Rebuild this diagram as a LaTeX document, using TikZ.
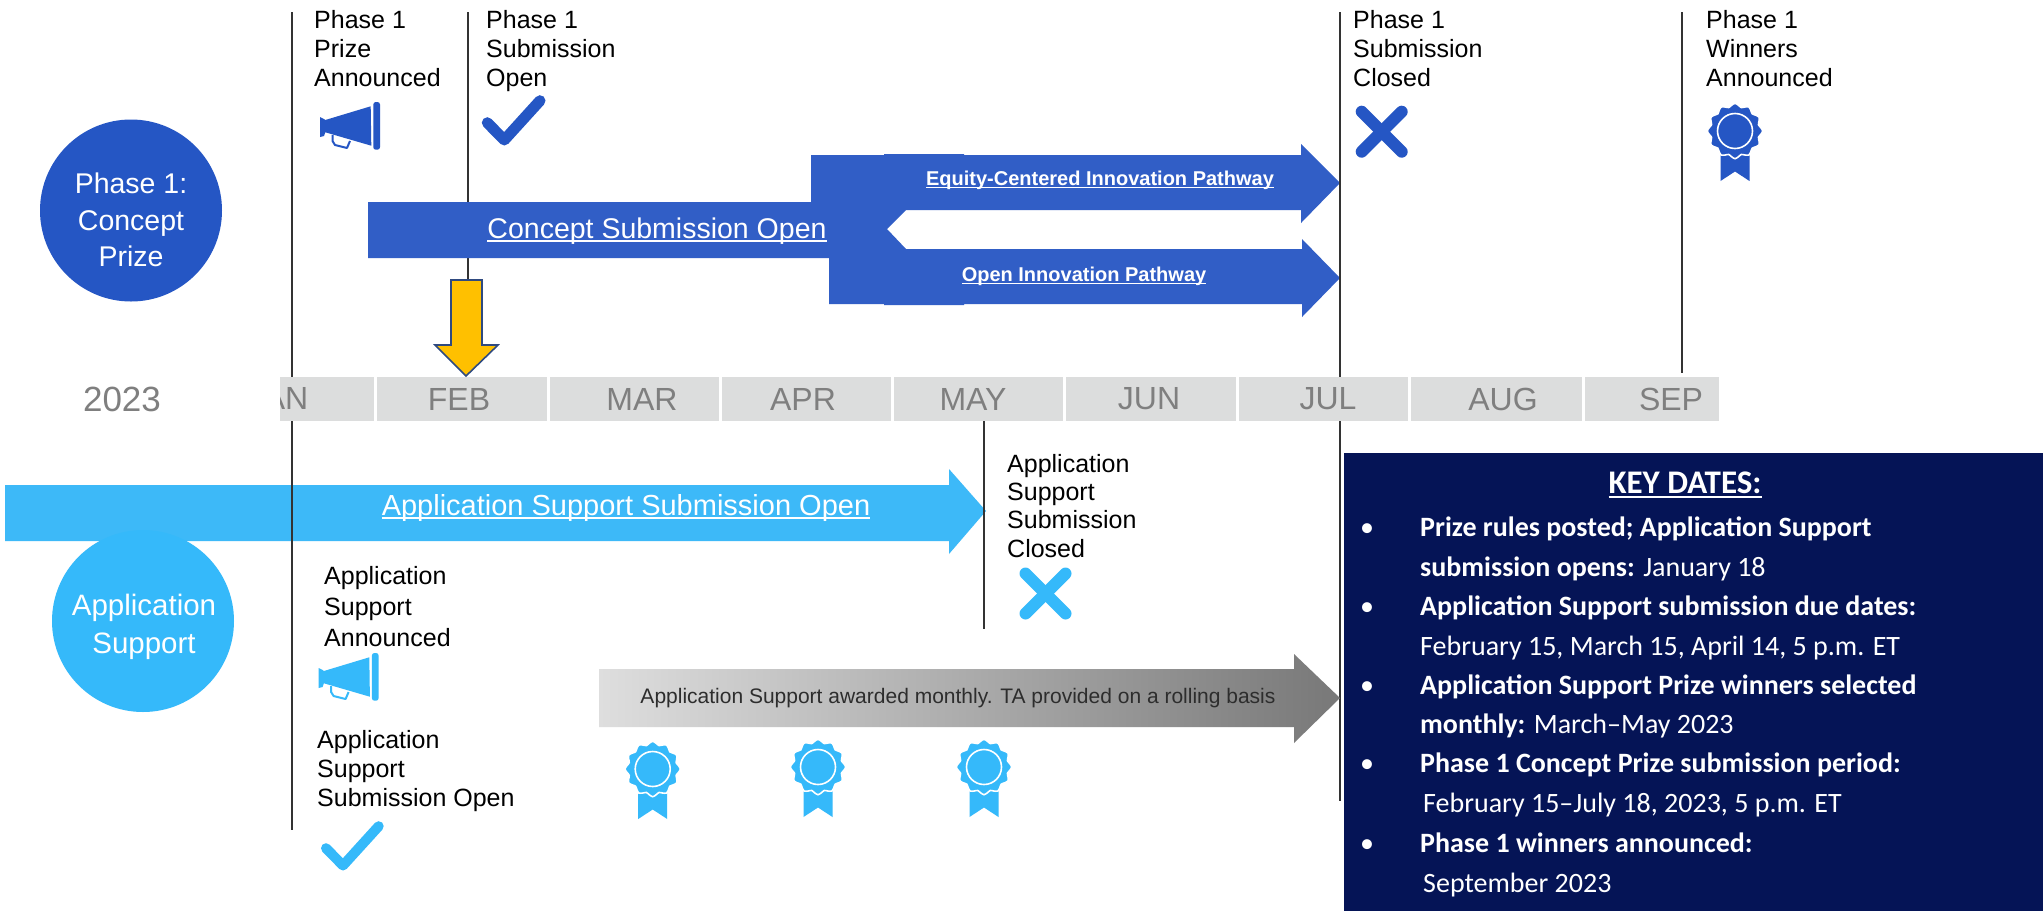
\documentclass[tikz,border=0pt]{standalone}
\usepackage{fontspec}
\setmainfont{Liberation Sans}
\newfontfamily\carl{Carlito}
\definecolor{pblue}{HTML}{2556C4}
\definecolor{barblue}{HTML}{315EC6}
\definecolor{lblue}{HTML}{35B9FA}
\definecolor{lbar}{HTML}{3DB9F8}
\definecolor{navy}{HTML}{051456}
\definecolor{monthbg}{HTML}{DCDDDD}
\definecolor{monthtx}{HTML}{7F7F7F}
\definecolor{vline}{HTML}{333333}
\newsavebox\ulbox
\newcommand\ulx[3]{\sbox\ulbox{#3}\leavevmode\rlap{\rule[-#1pt]{\wd\ulbox}{#2pt}}\usebox\ulbox}
\newcommand\fs[2]{\fontsize{#1}{#2}\selectfont}
\newcommand\ribbonicon[3]{%
  \begin{scope}[shift={(#1,#2)}]
    \fill[#3] (-14.5,24) -- (14.5,24) -- (14.5,50) -- (0,40.5) -- (-14.5,50) -- cycle;
    \fill[#3,draw=white,line width=1.6] plot[smooth cycle,domain=0:352.5,samples=48] ({(26+1.7*cos(12*\x))*cos(\x)},{(26+1.7*cos(12*\x))*sin(\x)});
    \draw[white,line width=1.6] (0,0) circle (17.5);
  \end{scope}}
\newcommand\megaicon[4]{%
  \begin{scope}[shift={(#1,#2)}]
    \fill[#3] (0,15) -- (4,17) -- (5.3,18) -- (50.7,4.3) -- (51.3,43.7) -- (5.3,30.3) -- (4,34) -- (0,35) -- cycle;
    \fill[#3,rounded corners=2.5] (53.3,0) rectangle (60,47.7);
    \draw[#3,line width=2,line join=round] (12.5,33) -- (12.5,39) -- (15,43) -- (27,46) -- (30,39);
  \end{scope}}
\newcommand\checkicon[4]{%
  \draw[#3,line width=#4,line cap=round,line join=round] (#1,#2) ++(-17,-17.3) -- ++(17,17.3) -- ++(35.7,-39.3);}
\newcommand\crossicon[3]{%
  \draw[#3,line width=12,line cap=round] (#1,#2) ++(-20,-20) -- ++(40,40);
  \draw[#3,line width=12,line cap=round] (#1,#2) ++(20,-20) -- ++(-40,40);}
\tikzset{
  vl/.style={vline,line width=1.7},
  lbl/.style={anchor=north west,inner sep=0,align=left,font=\fs{25}{29},text=black},
  mon/.style={fill=monthbg,draw=none},
  montx/.style={inner sep=0,text=monthtx,font=\fs{32}{36}},
  wtx/.style={inner sep=0,text=white},
  kd/.style={anchor=base west,inner sep=0,text=white,font=\carl\fs{28}{32}},
  kb/.style={anchor=base,inner sep=0,text=white,font=\carl\fs{28}{32}},
}
\begin{document}
\begin{tikzpicture}[x=1pt,y=-1pt]
\useasboundingbox (0,0) rectangle (2043,911);
\fill[white] (0,0) rectangle (2043,911);
% vertical rules
\coordinate (a1) at (292,12); \coordinate (a2) at (292,377);
\coordinate (a3) at (292,421); \coordinate (a4) at (292,830);
\coordinate (b1) at (468,12); \coordinate (b2) at (468,285);
\coordinate (c1) at (1340,12); \coordinate (c2) at (1340,377);
\coordinate (c3) at (1340,421); \coordinate (c4) at (1340,801);
\coordinate (d1) at (1682,12); \coordinate (d2) at (1682,373);
\coordinate (e1) at (984,421); \coordinate (e2) at (984,629);
\draw[vl] (b1) -- (b2);
\draw[vl] (d1) -- (d2);
% concept arrows
\fill[barblue] (368,202) -- (811,202) -- (811,155) -- (884,155) -- (884,154) -- (964,154) -- (964,155)
  -- (1301,155) -- (1301,144) -- (1340,183) -- (1301,223) -- (1301,210) -- (906,210) -- (887,229) -- (906,249)
  -- (1302,249) -- (1302,239) -- (1340,278) -- (1302,317) -- (1302,304) -- (964,304) -- (964,305) -- (884,305)
  -- (884,304) -- (829,304) -- (829,258) -- (368,258) -- cycle;
\node[wtx,font=\fs{28.5}{32}] (concept) at (657,231) {\ulx{3.5}{2}{Concept Submission Open}};
\node[wtx,font=\bfseries\fs{20}{24}] (equity) at (1100,180) {\ulx{3}{1.6}{Equity-Centered Innovation Pathway}};
\node[wtx,font=\bfseries\fs{20}{24}] (openp) at (1084,276) {\ulx{3}{1.6}{Open Innovation Pathway}};
% gold arrow
\fill[fill=yellow!0!orange!0!white,fill opacity=0] (0,0) circle (0);
\filldraw[fill={rgb,255:red,255;green,192;blue,0},draw={rgb,255:red,47;green,74;blue,128},line width=1.6]
  (451,280) -- (482,280) -- (482,345) -- (498,345) -- (466,376) -- (435,345) -- (451,345) -- cycle;
% month bar
\draw[vl] (a1) -- (a2);
\draw[vl] (c1) -- (c2);
\foreach \xa/\xb in {280/374,377/547,550/719,722/891,894/1063,1066/1236,1239/1408,1411/1582,1585/1719}
  \fill[mon] (\xa,377) rectangle (\xb,421);
\begin{scope}
  \clip (280,370) rectangle (374,425);
  \node[montx] (jan) at (278,399) {JAN};
\end{scope}
\node[montx] (feb) at (459,399) {FEB};
\node[montx] (mar) at (642,399) {MAR};
\node[montx] (apr) at (803,399) {APR};
\node[montx] (may) at (973,399) {MAY};
\node[montx] (jun) at (1149,399) {JUN};
\node[montx] (jul) at (1328,399) {JUL};
\node[montx] (aug) at (1503,399) {AUG};
\node[montx] (sep) at (1671,399) {SEP};
\node[inner sep=0,text=monthtx,font=\fs{35}{38}] (yr) at (122,399) {2023};
% phase circle
\node[circle,fill=pblue,minimum size=182,inner sep=0] (phc) at (131,210.5) {};
\node[wtx,align=center,font=\fs{28.5}{36.5}] (phtx) at (131,220) {Phase 1:\\Concept\\Prize};
% application arrow
\fill[lbar] (5,485) -- (949,485) -- (949,469) -- (986,511) -- (949,554) -- (949,541) -- (5,541) -- cycle;
\node[wtx,font=\fs{29}{32}] (appbar) at (626,508) {\ulx{3.5}{2}{Application Support Submission Open}};
\node[circle,fill=lblue,minimum size=182,inner sep=0] (apc) at (143,621) {};
\node[wtx,align=center,font=\fs{29.5}{38}] (aptx) at (144,627) {Application\\Support};
\draw[vl] (a3) -- (a4);
\draw[vl] (c3) -- (c4);
\draw[vl] (e1) -- (e2);
% grey arrow
\shade[left color={rgb,255:red,222;green,222;blue,222},right color={rgb,255:red,120;green,120;blue,120}]
  (599,669) -- (1294,669) -- (1294,654) -- (1340,698) -- (1294,743) -- (1294,727) -- (599,727) -- cycle;
\node[inner sep=0,text={rgb,255:red,45;green,45;blue,45},font=\fs{21}{25}] (gr) at (958,698) {Application Support awarded monthly. TA provided on a rolling basis};
% labels
\node[lbl] (l1) at (314,10) {Phase 1\\Prize\\Announced};
\node[lbl] (l2) at (486,10) {Phase 1\\Submission\\Open};
\node[lbl] (l3) at (1353,10) {Phase 1\\Submission\\Closed};
\node[lbl] (l4) at (1706,10) {Phase 1\\Winners\\Announced};
\node[lbl,font=\fs{25}{28.3}] (l5) at (1007,454) {Application\\Support\\Submission\\Closed};
\node[lbl,font=\fs{25}{31}] (l6) at (324,566) {Application\\Support\\Announced};
\node[lbl,font=\fs{25}{29}] (l7) at (317,730) {Application\\Support\\Submission Open};
% icons
\megaicon{320}{102}{pblue}{}
\checkicon{504.3}{140}{pblue}{11}
\crossicon{1381.7}{131.7}{pblue}
\ribbonicon{1735}{131}{pblue}
\megaicon{318.6}{653}{lblue}{}
\checkicon{343}{865.5}{lblue}{10}
\crossicon{1045.5}{593.5}{lblue}
\ribbonicon{652.7}{769}{lblue}
\ribbonicon{818}{767}{lblue}
\ribbonicon{984}{767}{lblue}
% key dates
\fill[navy] (1344,453) rectangle (2043,911);
\node[inner sep=0,text=white,font=\carl\bfseries\fs{33}{36}] (kt) at (1685,485) {\ulx{4}{2}{KEY DATES:}};
\foreach \yy in {536,615,694,772,852}
  \node[kb] at (1367,\yy) {•};
\node[kd] (k1) at (1420,536) {\bfseries Prize rules posted; Application Support};
\node[kd] (k2) at (1420,576) {\textbf{submission opens:} January 18};
\node[kd] (k3) at (1420,615) {\bfseries Application Support submission due dates:};
\node[kd] (k4) at (1420,655) {February 15, March 15, April 14, 5 p.m. ET};
\node[kd] (k5) at (1420,694) {\bfseries Application Support Prize winners selected};
\node[kd] (k6) at (1420,733) {\textbf{monthly:} March–May 2023};
\node[kd] (k7) at (1420,772) {\bfseries Phase 1 Concept Prize submission period:};
\node[kd] (k8) at (1423,812) {February 15–July 18, 2023, 5 p.m. ET};
\node[kd] (k9) at (1420,852) {\bfseries Phase 1 winners announced:};
\node[kd] (k10) at (1423,892) {September 2023};
\end{tikzpicture}
\end{document}
